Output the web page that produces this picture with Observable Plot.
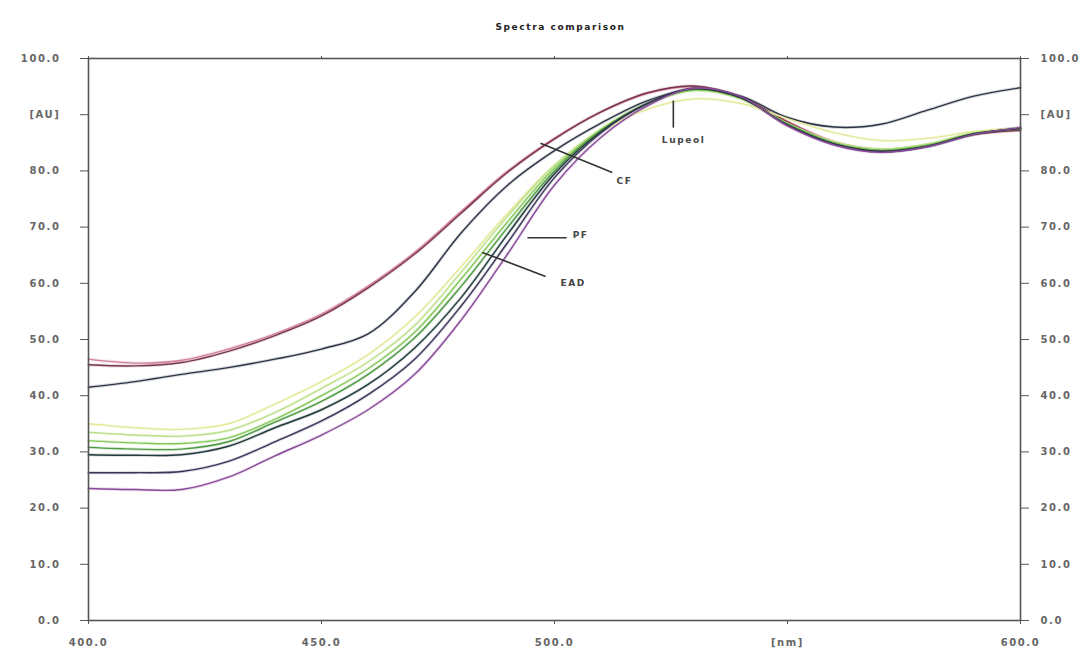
<!DOCTYPE html>
<html><head><meta charset="utf-8">
<script src="https://cdn.jsdelivr.net/npm/d3@7"></script>
<script src="https://cdn.jsdelivr.net/npm/@observablehq/plot@0.6"></script>
<style>body{margin:0;background:#fff} svg{display:block}</style>
</head><body><div id="chart"></div>
<script>
// Wavelengths (nm)
const wavelengths = [400,410,420,430,440,450,460,470,480,490,500,510,520,530,540,550,560,570,580,590,600];

// Series (absorbance, AU)
const seriesNames = ["CF a","CF b","S2","Lupeol","G2","G3","G4","S4","S5","PF"];
const cfA    = [46.5,45.8,46.3,48.3,51.0,54.5,59.5,65.5,72.8,80.0,85.8,90.5,93.8,95.0,93.0,88.8,85.2,83.8,84.6,86.6,87.3];
const cfB    = [45.5,45.3,45.9,47.9,50.7,54.2,59.2,65.2,72.5,79.8,85.7,90.5,93.9,95.1,93.1,88.7,85.0,83.6,84.5,86.5,87.2];
const s2     = [41.5,42.5,43.8,45.0,46.5,48.3,51.0,58.5,69.0,77.5,83.6,88.5,92.5,94.6,93.3,89.5,87.8,88.3,90.8,93.3,94.8];
const lupeol = [35.0,34.3,34.0,35.0,38.5,42.5,47.3,54.0,63.0,72.5,81.0,87.0,91.0,92.8,92.0,89.3,86.8,85.4,85.8,87.0,87.6];
const g2     = [33.5,33.0,32.8,33.8,37.0,41.3,46.0,52.5,62.0,72.0,81.0,87.5,92.0,94.3,92.8,88.5,85.2,83.9,84.8,86.8,87.5];
const g3     = [32.0,31.6,31.5,32.5,35.8,40.0,44.8,51.3,60.8,71.0,80.5,87.3,92.0,94.4,92.9,88.4,85.0,83.7,84.6,86.7,87.5];
const g4     = [30.8,30.5,30.5,31.8,35.3,39.0,43.8,50.3,59.5,70.0,80.0,87.2,92.0,94.5,93.0,88.3,84.9,83.6,84.5,86.6,87.5];
const s4     = [29.5,29.4,29.5,31.0,34.3,37.5,42.0,48.5,57.5,68.8,79.5,87.0,92.0,94.6,93.0,88.2,84.8,83.5,84.4,86.6,87.6];
const s5     = [26.3,26.3,26.5,28.3,31.8,35.5,40.2,46.5,56.0,67.3,78.8,86.8,92.0,94.7,93.1,88.1,84.7,83.4,84.3,86.5,87.6];
const pf     = [23.5,23.3,23.3,25.5,29.3,33.0,37.5,43.8,53.5,65.3,77.5,86.0,91.6,94.7,93.2,88.0,84.6,83.3,84.3,86.5,87.7];
const seriesValues = [cfA,cfB,s2,lupeol,g2,g3,g4,s4,s5,pf];
const seriesColors = ["#d27f98","#7a3550","#2b3345","#e4e99a","#bde08a","#86c95a","#4f9a45","#223a3c","#3a3358","#8a4a9a"];

// Axis ticks
const yTickValues = [0,10,20,30,40,50,60,70,80,90,100];
const yTickLabels = ["0.0","10.0","20.0","30.0","40.0","50.0","60.0","70.0","80.0","[AU]","100.0"];
const xTickValues = [400,450,500,550,600];
const xTickLabels = ["400.0","450.0","500.0","[nm]","600.0"];

// Annotations
const annoLabels = ["CF","PF","EAD","Lupeol"];
const annoX1 = [497.0,494.2,484.5,525.5];
const annoY1 = [84.9,68.1,65.5,92.5];
const annoX2 = [512.4,502.6,498.1,525.5];
const annoY2 = [79.7,68.1,61.2,87.7];
const annoTX = [515.0,505.6,504.0,527.7];
const annoTY = [78.1,68.5,60.1,85.4];
const titleText = "Spectra comparison";

const rows = [];
seriesNames.forEach((s, i) => wavelengths.forEach((w, j) => rows.push({series: s, x: w, y: seriesValues[i][j]})));
const annos = annoLabels.map((l, i) => ({label: l, x1: annoX1[i], y1: annoY1[i], x2: annoX2[i], y2: annoY2[i], tx: annoTX[i], ty: annoTY[i]}));
const yFmt = d => yTickLabels[yTickValues.indexOf(d)];
const xFmt = d => xTickLabels[xTickValues.indexOf(d)];

const chart = Plot.plot({
  width: 1090, height: 649,
  marginLeft: 88, marginRight: 70, marginTop: 58, marginBottom: 29,
  style: {fontFamily: "'DejaVu Sans', Verdana, sans-serif", fontSize: "10px", fontWeight: "bold", color: "#666", background: "#fff", letterSpacing: "1.6px"},
  x: {domain: [400, 600]},
  y: {domain: [0, 100]},
  color: {domain: seriesNames, range: seriesColors},
  marks: [
    Plot.line(rows, {x: "x", y: "y", z: "series", stroke: "series", strokeWidth: 3.2, strokeOpacity: 0.18, curve: "catmull-rom"}),
    Plot.line(rows, {x: "x", y: "y", z: "series", stroke: "series", strokeWidth: 1.4, curve: "catmull-rom"}),
    Plot.link(annos, {x1: "x1", y1: "y1", x2: "x2", y2: "y2", stroke: "#333", strokeWidth: 1.6}),
    Plot.text(annos, {x: "tx", y: "ty", text: "label", fill: "#444", fontSize: 9, fontWeight: "bold"}),
    Plot.frame({stroke: "#555", strokeWidth: 1.6}),
    Plot.axisY({anchor: "left", ticks: yTickValues, tickFormat: yFmt, tickSize: 8, tickPadding: 20, stroke: "#555", label: null}),
    Plot.axisY({anchor: "right", ticks: yTickValues, tickFormat: yFmt, tickSize: 8, tickPadding: 12, stroke: "#555", label: null}),
    Plot.axisX({anchor: "bottom", ticks: xTickValues, tickFormat: xFmt, tickSize: 4, tickPadding: 14, stroke: "#555", label: null}),
    Plot.axisX({anchor: "top", ticks: xTickValues, tickFormat: null, text: null, tickSize: 3, stroke: "#555", label: null}),
    Plot.text([titleText], {frameAnchor: "top", dy: -35, dx: 6, fontWeight: "bold", fontSize: 9, fill: "#222"})
  ]
});
document.getElementById("chart").appendChild(chart);
</script>
</body></html>
